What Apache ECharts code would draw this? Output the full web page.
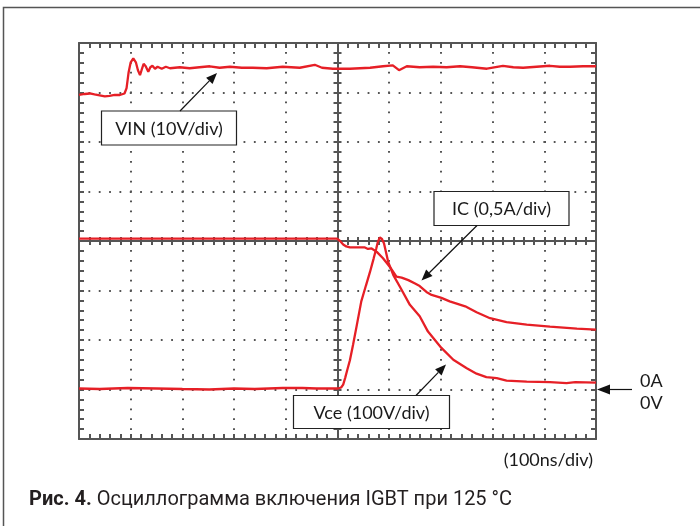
<!DOCTYPE html>
<html><head><meta charset="utf-8">
<script src="https://cdn.jsdelivr.net/npm/echarts@6/dist/echarts.min.js"></script>
<style>html,body{margin:0;padding:0;background:#fff}#c{width:700px;height:526px}</style>
</head><body><div id="c"></div>
<script>
// time in ns (100 ns/div), value in screen divisions (0..8 from bottom)
const vinPoints = [[0,6.95],[11,6.97],[21,6.98],[30,6.96],[40,6.94],[50,6.92],[59,6.93],[69,6.95],[79,6.95],[88,6.98],[92,7.09],[96,7.41],[100,7.61],[105,7.69],[110,7.61],[114,7.45],[118,7.35],[121,7.45],[125,7.58],[129,7.53],[134,7.42],[138,7.51],[142,7.54],[147,7.48],[152,7.52],[160,7.48],[168,7.52],[176,7.49],[195,7.51],[214,7.49],[233,7.51],[253,7.53],[272,7.50],[292,7.52],[315,7.50],[336,7.50],[363,7.49],[394,7.52],[427,7.50],[456,7.56],[470,7.50],[491,7.48],[524,7.48],[563,7.50],[588,7.53],[607,7.55],[619,7.45],[634,7.53],[659,7.51],[685,7.52],[711,7.51],[737,7.53],[760,7.51],[789,7.48],[820,7.54],[840,7.51],[859,7.50],[885,7.52],[911,7.54],[930,7.52],[950,7.52],[975,7.53],[1000,7.53]];
const icPoints = [[0,4.05],[100,4.05],[200,4.05],[300,4.05],[400,4.05],[499,4.05],[505,4.00],[511,3.93],[517,3.89],[524,3.87],[538,3.87],[553,3.87],[559,3.84],[566,3.85],[576,3.78],[588,3.65],[601,3.48],[614,3.28],[624,3.26],[637,3.21],[650,3.14],[659,3.09],[672,2.97],[682,2.91],[701,2.85],[717,2.78],[747,2.68],[769,2.56],[795,2.44],[827,2.36],[866,2.31],[911,2.27],[963,2.23],[1000,2.21]];
const vcePoints = [[0,1.02],[40,1.01],[94,1.03],[150,1.02],[200,1.01],[252,1.00],[300,1.02],[340,1.01],[394,1.03],[432,1.03],[460,1.02],[501,1.02],[507,1.04],[511,1.10],[515,1.24],[519,1.40],[524,1.59],[530,1.90],[537,2.28],[546,2.78],[555,3.10],[563,3.38],[570,3.65],[575,3.85],[578,3.98],[582,4.07],[586,4.04],[590,3.95],[598,3.58],[608,3.31],[621,3.07],[640,2.71],[659,2.48],[675,2.17],[701,1.84],[724,1.60],[750,1.43],[769,1.32],[788,1.25],[808,1.23],[827,1.18],[866,1.16],[911,1.15],[943,1.13],[960,1.15],[1000,1.14]];
const labelVin = 'VIN (10V/div)';
const labelIc = 'IC (0,5A/div)';
const labelVce = 'Vce (100V/div)';
const labelZeroA = '0A';
const labelZeroV = '0V';
const labelTime = '(100ns/div)';
const captionBold = 'Рис. 4.';
const captionText = ' Осциллограмма включения IGBT при 125 °C';

const gridColor = '#555';
const traceColor = '#e61f26';
const G = {left: 79, top: 43, width: 517, height: 396};

function axis(dim, pos, opts) {
  const isX = dim === 'x';
  const len = opts.len || 5;
  const a = {
    type: 'value', min: 0, max: isX ? 1000 : 8, interval: isX ? 100 : 1,
    position: pos, offset: opts.offset || 0,
    axisLine: {show: opts.line !== false, onZero: false, lineStyle: {color: gridColor, width: 2}},
    axisTick: {show: true, inside: opts.inside, length: len, lineStyle: {color: gridColor, width: 2}},
    minorTick: {show: true, splitNumber: 5, length: len, lineStyle: {color: gridColor, width: 2}},
    axisLabel: {show: false},
    splitLine: {show: false}
  };
  if (opts.split) {
    a.splitLine = {show: true, showMinLine: false, showMaxLine: false,
      lineStyle: {color: gridColor, width: 2, type: isX ? [1.8, 8.1] : [1.8, 8.54], dashOffset: 0.9, cap: 'butt'}};
  }
  return a;
}

function arrow(x1, y1, x2, y2, len, w) {
  const dx = x2 - x1, dy = y2 - y1, L = Math.hypot(dx, dy);
  const ux = dx / L, uy = dy / L;
  const bx = x2 - ux * len, by = y2 - uy * len;
  return [
    {type: 'line', z: 110, shape: {x1: x1, y1: y1, x2: bx, y2: by}, style: {stroke: '#111', lineWidth: 1.2}},
    {type: 'polygon', z: 110, shape: {points: [[x2, y2], [bx - uy * w / 2, by + ux * w / 2], [bx + uy * w / 2, by - ux * w / 2]]}, style: {fill: '#111'}}
  ];
}
function box(x, y, w, h, text) {
  return [
    {type: 'rect', z: 105, shape: {x: x, y: y, width: w, height: h}, style: {fill: '#fff', stroke: '#222', lineWidth: 1.2}},
    {type: 'text', z: 106, x: x + w / 2, y: y + h / 2 + 1, style: {text: text, fill: '#1a1a1a', font: '18px Lato', align: 'center', verticalAlign: 'middle'}}
  ];
}

const graphics = [].concat(
  [{type: 'rect', z: 1, shape: {x: 3.5, y: 7.5, width: 760, height: 600}, style: {fill: 'none', stroke: '#555', lineWidth: 1.5}}],
  box(101.5, 111, 135, 34, labelVin),
  box(434, 191.5, 135, 34, labelIc),
  box(293.5, 395.5, 156, 33, labelVce),
  arrow(180, 111, 217, 73, 11, 9),
  arrow(477, 225.5, 421.5, 280.5, 11, 9),
  arrow(416, 395.5, 446, 364.5, 11, 9),
  arrow(632, 389.5, 597, 389.5, 13, 10),
  [
    {type: 'text', z: 106, x: 640, y: 381, style: {text: labelZeroA, fill: '#1a1a1a', font: '18px Lato', verticalAlign: 'middle'}},
    {type: 'text', z: 106, x: 640, y: 403, style: {text: labelZeroV, fill: '#1a1a1a', font: '18px Lato', verticalAlign: 'middle'}},
    {type: 'text', z: 106, x: 593, y: 460, style: {text: labelTime, fill: '#1a1a1a', font: '18px Lato', align: 'right', verticalAlign: 'middle'}},
    {type: 'text', z: 106, x: 29, y: 500, style: {
      text: '{b|' + captionBold + '}{n|' + captionText + '}', verticalAlign: 'middle',
      rich: {b: {font: 'bold 20px Roboto', fill: '#231f20'}, n: {font: '20px Roboto', fill: '#231f20'}}}}
  ]
);

const chart = echarts.init(document.getElementById('c'), null, {renderer: 'canvas'});
const mk = (name, data) => ({name: name, type: 'line', data: data, xAxisIndex: 0, yAxisIndex: 0, showSymbol: false, symbol: 'none', z: 5,
  lineStyle: {color: traceColor, width: 2.3}, itemStyle: {color: traceColor}, emphasis: {disabled: true}});
chart.setOption({
  animation: false,
  backgroundColor: '#fff',
  grid: {left: G.left, top: G.top, width: G.width, height: G.height, containLabel: false},
  xAxis: [
    axis('x', 'bottom', {inside: true, split: true, len: 5}),
    axis('x', 'top', {inside: true, len: 5}),
    axis('x', 'bottom', {inside: true, offset: -G.height / 2, len: 4}),
    axis('x', 'bottom', {inside: false, offset: -G.height / 2, line: false, len: 4})
  ],
  yAxis: [
    axis('y', 'left', {inside: true, split: true, len: 5}),
    axis('y', 'right', {inside: true, len: 5}),
    axis('y', 'left', {inside: true, offset: -G.width / 2, len: 4}),
    axis('y', 'left', {inside: false, offset: -G.width / 2, line: false, len: 4})
  ],
  series: [mk('VIN', vinPoints), mk('IC', icPoints), mk('Vce', vcePoints)],
  graphic: graphics
});
</script></body></html>
